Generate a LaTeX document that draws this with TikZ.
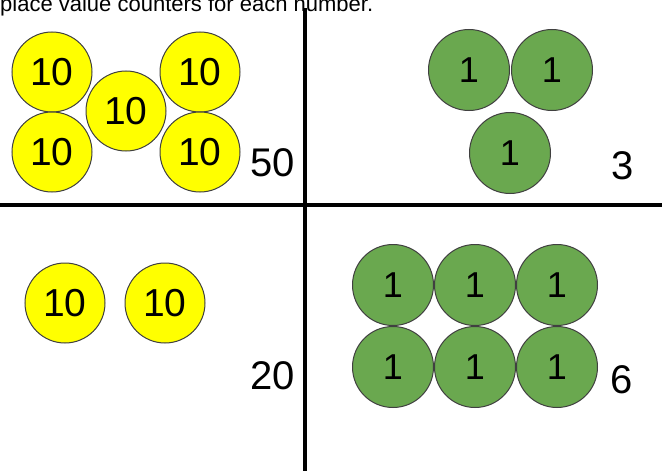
\documentclass[tikz,border=0pt]{standalone}
\usepackage{fontspec}
\setmainfont{Liberation Sans}
\definecolor{tenyellow}{RGB}{255,255,0}
\definecolor{onegreen}{RGB}{106,168,79}
\begin{document}
\begin{tikzpicture}[x=1pt,y=-1pt,
  ten/.style={circle,draw=black!75,line width=1pt,fill=tenyellow,minimum size=80pt,inner sep=0pt,font=\fontsize{39}{41}\selectfont},
  one/.style={circle,draw=black!75,line width=1pt,fill=onegreen,minimum size=81pt,inner sep=0pt,font=\fontsize{36}{39}\selectfont},
  total/.style={inner sep=0pt,font=\fontsize{40}{44}\selectfont},
  divider/.style={line width=3.4pt}]
\useasboundingbox (0,0) rectangle (662,471);
\clip (0,0) rectangle (662,471);
\fill[white] (0,0) rectangle (662,471);
\node[anchor=base west,inner sep=0pt,font=\fontsize{22}{24}\selectfont] (title) at (0,11) {place value counters for each number.};
\coordinate (vtop) at (305,8);
\coordinate (vbot) at (305,471);
\coordinate (hl) at (0,205);
\coordinate (hr) at (662,205);
\draw[divider] (vtop) -- (vbot);
\draw[divider] (hl) -- (hr);
% top left
\node[ten] (a1) at (52,72) {10};
\node[ten] (a2) at (52,152) {10};
\node[ten] (a3) at (126,111) {10};
\node[ten] (a4) at (200,72) {10};
\node[ten] (a5) at (200,152) {10};
\node[total] (t50) at (273,163) {50};
% top right
\node[one] (b1) at (469,70) {1};
\node[one] (b2) at (552,70) {1};
\node[one] (b3) at (510,153) {1};
\node[total] (t3) at (623,166) {3};
% bottom left
\node[ten] (c1) at (65,303) {10};
\node[ten] (c2) at (165,303) {10};
\node[total] (t20) at (273,376) {20};
% bottom right
\node[one] (d1) at (393,285) {1};
\node[one] (d2) at (475,285) {1};
\node[one] (d3) at (557,285) {1};
\node[one] (d4) at (393,367) {1};
\node[one] (d5) at (475,367) {1};
\node[one] (d6) at (557,367) {1};
\node[total] (t6) at (622,380) {6};
\end{tikzpicture}
\end{document}
